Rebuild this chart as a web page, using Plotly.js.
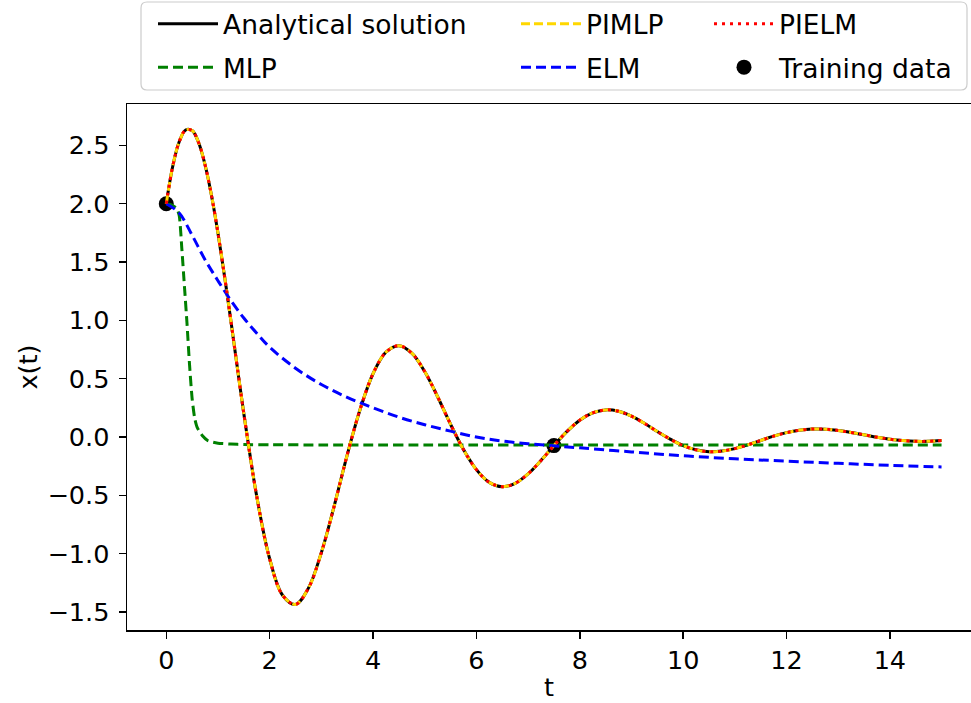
<!DOCTYPE html>
<html>
<head>
<meta charset="utf-8">
<script src="https://cdn.plot.ly/plotly-3.0.1.min.js"></script>
<style>html,body{margin:0;padding:0;background:#fff;overflow:hidden;}</style>
</head>
<body>
<div id="chart" style="width:971px;height:703px;"></div>
<script>
// Analytical solution (also matched by PIMLP and PIELM)
const tAnalytic = [0,0.125,0.25,0.375,0.5,0.625,0.75,0.875,1,1.125,1.25,1.5,1.75,2,2.25,2.5,2.75,3,3.25,3.5,3.75,4,4.25,4.5,4.75,5,5.25,5.5,5.75,6,6.25,6.5,6.75,7,7.25,7.5,7.75,8,8.25,8.5,8.75,9,9.25,9.5,9.75,10,10.25,10.5,10.75,11,11.25,11.5,11.75,12,12.25,12.5,12.75,13,13.25,13.5,13.75,14,14.25,14.5,14.75,15];
const xAnalytic = [2.0,2.321,2.531,2.632,2.627,2.525,2.334,2.071,1.749,1.385,0.996,0.202,-0.509,-1.044,-1.357,-1.436,-1.296,-0.992,-0.590,-0.155,0.236,0.542,0.727,0.783,0.719,0.561,0.345,0.109,-0.108,-0.280,-0.389,-0.426,-0.398,-0.317,-0.202,-0.074,0.046,0.144,0.207,0.232,0.220,0.178,0.117,0.047,-0.019,-0.074,-0.110,-0.126,-0.121,-0.100,-0.068,-0.030,0.007,0.037,0.058,0.068,0.067,0.056,0.039,0.019,-0.002,-0.019,-0.031,-0.037,-0.037,-0.031];
const xPIMLP = xAnalytic.slice();
const xPIELM = xAnalytic.slice();

// MLP prediction
const tMLP = [0,0.1,0.2,0.25,0.3,0.35,0.4,0.45,0.5,0.55,0.6,0.7,0.8,0.9,1.0,1.25,1.5,2,3,4,5,6,7,8,9,10,11,12,13,14,15];
const xMLP = [2.0,1.99,1.96,1.9,1.62,1.3,0.98,0.62,0.33,0.16,0.08,0.01,-0.03,-0.045,-0.053,-0.061,-0.065,-0.067,-0.068,-0.068,-0.068,-0.068,-0.068,-0.068,-0.068,-0.068,-0.068,-0.068,-0.068,-0.068,-0.068];

// ELM prediction
const tELM = [0,0.25,0.5,0.75,1,1.25,1.5,1.75,2,2.5,3,3.5,4,4.5,5,5.5,6,6.5,7,7.5,8,9,10,11,12,13,14,15];
const xELM = [2.0,1.92,1.73,1.52,1.34,1.17,1.02,0.89,0.77,0.59,0.45,0.34,0.25,0.17,0.105,0.05,0.0,-0.035,-0.058,-0.076,-0.093,-0.128,-0.161,-0.187,-0.207,-0.226,-0.243,-0.257];

// Training data
const tTrain = [0, 7.5];
const xTrain = [2.0, -0.074];

// Ticks
const xTickVals = [0,2,4,6,8,10,12,14];
const xTickText = ['0','2','4','6','8','10','12','14'];
const yTickVals = [-1.5,-1.0,-0.5,0.0,0.5,1.0,1.5,2.0,2.5];
const yTickText = ['\u22121.5','\u22121.0','\u22120.5','0.0','0.5','1.0','1.5','2.0','2.5'];

const traces = [
  {x:tTrain, y:xTrain, mode:'markers', name:'Training data', marker:{color:'black', size:15},
   legend:'legend3', legendgroup:'f', legendrank:2},
  {x:tAnalytic, y:xAnalytic, mode:'lines', name:'Analytical solution', line:{color:'black', width:3, shape:'spline'},
   legend:'legend', legendgroup:'a', legendrank:1},
  {x:tMLP, y:xMLP, mode:'lines', name:'MLP', line:{color:'green', width:3, dash:'10px,5px', shape:'spline', smoothing:0.6},
   legend:'legend', legendgroup:'b', legendrank:2},
  {x:tAnalytic, y:xPIMLP, mode:'lines', name:'PIMLP', line:{color:'gold', width:3, dash:'9px,4px', shape:'spline'},
   legend:'legend2', legendgroup:'c', legendrank:1},
  {x:tELM, y:xELM, mode:'lines', name:'ELM', line:{color:'blue', width:3, dash:'10px,5px', shape:'spline'},
   legend:'legend2', legendgroup:'d', legendrank:2},
  {x:tAnalytic, y:xPIELM, mode:'lines', name:'PIELM', line:{color:'red', width:3, dash:'3px,5px', shape:'spline'},
   legend:'legend3', legendgroup:'e', legendrank:1}
];

const PL = 127, PR = 971, PT = 104, PB = 630;
const px2x = p => (p - PL) / (PR - PL);
const py2y = p => (PB - p) / (PB - PT);

function roundRect(x0p, y0p, x1p, y1p, r) {
  const x0 = px2x(x0p), x1 = px2x(x1p), yt = py2y(y0p), yb = py2y(y1p);
  const rx = r / (PR - PL), ry = r / (PB - PT);
  return `M ${x0+rx},${yt} L ${x1-rx},${yt} Q ${x1},${yt} ${x1},${yt-ry} L ${x1},${yb+ry} Q ${x1},${yb} ${x1-rx},${yb} L ${x0+rx},${yb} Q ${x0},${yb} ${x0},${yb+ry} L ${x0},${yt-ry} Q ${x0},${yt} ${x0+rx},${yt} Z`;
}

const legCommon = {
  xanchor:'left', yanchor:'top', y: py2y(0), bgcolor:'rgba(0,0,0,0)', borderwidth:0,
  traceorder:'grouped', tracegroupgap:6, font:{family:'DejaVu Sans', size:26.5, color:'black'},
  orientation:'v', itemwidth:60
};

const layout = {
  width:971, height:703,
  margin:{l:PL, r:0, t:PT, b:703-PB, pad:0, autoexpand:false},
  paper_bgcolor:'white', plot_bgcolor:'white',
  font:{family:'DejaVu Sans', size:25.5, color:'black'},
  showlegend:true,
  xaxis:{range:[-0.76,15.57], tickmode:'array', tickvals:xTickVals, ticktext:xTickText,
    ticks:'outside', ticklen:7, tickwidth:1.5, tickcolor:'black', ticklabelstandoff:0,
    showline:true, linewidth:1.5, linecolor:'black', mirror:true,
    showgrid:false, zeroline:false, automargin:false,
    tickfont:{size:25.5},
    title:{text:'t', standoff:4, font:{size:25.5}}},
  yaxis:{range:[-1.655,2.855], tickmode:'array', tickvals:yTickVals, ticktext:yTickText,
    ticks:'outside', ticklen:7, tickwidth:1.5, tickcolor:'black', ticklabelstandoff:4,
    showline:true, linewidth:1.5, linecolor:'black', mirror:false,
    showgrid:false, zeroline:false, automargin:false,
    tickfont:{size:25.5},
    title:{text:'x(t)', standoff:2, font:{size:25.5}}},
  legend: Object.assign({}, legCommon, {x: px2x(153)}),
  legend2: Object.assign({}, legCommon, {x: px2x(516)}),
  legend3: Object.assign({}, legCommon, {x: px2x(709)}),
  shapes:[{type:'path', xref:'paper', yref:'paper', layer:'below',
    path: roundRect(141, 2, 967, 90, 6),
    line:{color:'#cccccc', width:1.2}, fillcolor:'white'}]
};

Plotly.newPlot('chart', traces, layout, {displayModeBar:false, staticPlot:true});
</script>
</body>
</html>
